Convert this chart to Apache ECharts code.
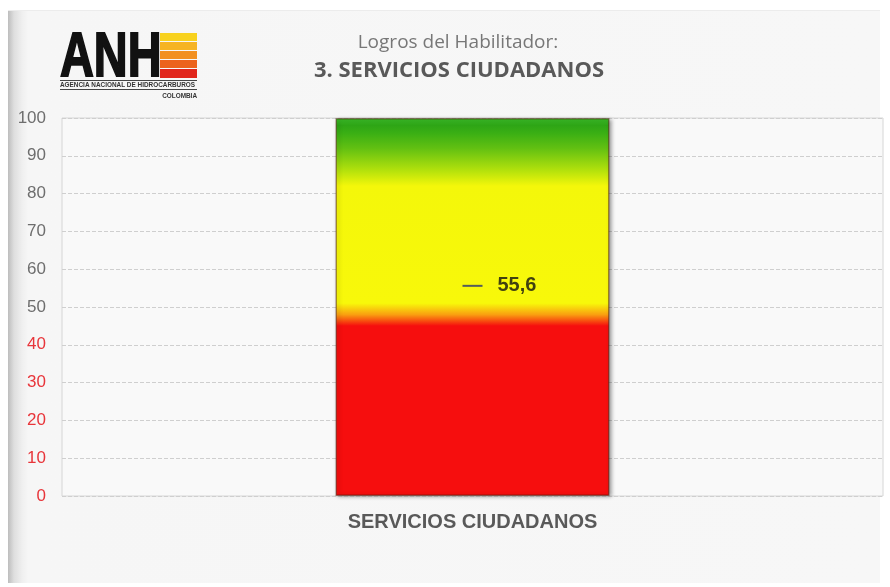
<!DOCTYPE html>
<html>
<head>
<meta charset="utf-8">
<script src="https://cdn.jsdelivr.net/npm/echarts@6/dist/echarts.min.js"></script>
<style>
    html, body { margin: 0; padding: 0; background: #ffffff; }
    #frame {
        position: absolute; left: 8px; top: 10px; width: 872px; height: 572px;
        background: linear-gradient(to right, #bdbdbd 0px, #dedede 6px, #efefef 14px, #f6f6f6 20px, #f7f7f7 100%);
        border-top: 1px solid #ececec;
    }
    #main { position: absolute; left: 0; top: 0; width: 890px; height: 587px; }
</style>
</head>
<body>
<div id="frame"></div>
<div id="main"></div>
<script>
// datos
var categorias = ['SERVICIOS CIUDADANOS'];
var escala = [100];          // la barra cubre toda la escala
var logro = [55.6];          // marcador del logro
var rojoHasta = 40;          // etiquetas del eje en rojo hasta este valor

var chart = echarts.init(document.getElementById('main'));

var option = {
    backgroundColor: 'transparent',
    animation: false,
    textStyle: {
        fontFamily: 'Liberation Sans, Arial, sans-serif'
    },
    graphic: [
        // logo ANH
        {
            type: 'text', x: 60, y: 90, scaleX: 0.71, scaleY: 0.96, originX: 0, originY: 0,
            style: {
                text: 'ANH', fontSize: 66, fontWeight: 900, fontFamily: 'Liberation Sans',
                fill: '#111111', stroke: '#111111', lineWidth: 2, verticalAlign: 'bottom'
            }
        },
        { type: 'rect', shape: { x: 160, y: 33, width: 37, height: 8 }, style: { fill: '#f8d21e' } },
        { type: 'rect', shape: { x: 160, y: 42, width: 37, height: 8 }, style: { fill: '#f6b423' } },
        { type: 'rect', shape: { x: 160, y: 51, width: 37, height: 8 }, style: { fill: '#f2901f' } },
        { type: 'rect', shape: { x: 160, y: 60, width: 37, height: 8 }, style: { fill: '#ec631d' } },
        { type: 'rect', shape: { x: 160, y: 69, width: 37, height: 9 }, style: { fill: '#e1261b' } },
        { type: 'rect', shape: { x: 60, y: 80, width: 137, height: 1 }, style: { fill: '#444444' } },
        {
            type: 'text', x: 60, y: 81, scaleX: 0.8, originX: 0,
            style: { text: 'AGENCIA NACIONAL DE HIDROCARBUROS', fontSize: 8, fontWeight: 'bold', fontFamily: 'Liberation Sans', fill: '#333333' }
        },
        { type: 'rect', shape: { x: 60, y: 89, width: 137, height: 1 }, style: { fill: '#444444' } },
        {
            type: 'text', x: 197, y: 92, scaleX: 0.8, originX: 0,
            style: { text: 'COLOMBIA', fontSize: 8, fontWeight: 'bold', fontFamily: 'Liberation Sans', fill: '#333333', align: 'right' }
        }
    ],
    title: [
        {
            text: 'Logros del Habilitador:',
            left: 453, top: 28, textAlign: 'center',
            textStyle: { fontFamily: 'Open Sans', fontWeight: 'normal', fontSize: 19, color: '#777777' }
        },
        {
            text: '3. SERVICIOS CIUDADANOS',
            left: 454, top: 55, textAlign: 'center',
            textStyle: { fontFamily: 'Open Sans', fontWeight: 'bold', fontSize: 22, color: '#595959' }
        }
    ],
    grid: {
        left: 62, right: 7, top: 118, bottom: 91,
        show: true,
        borderColor: '#d6d6d6',
        borderWidth: 1,
        backgroundColor: '#f9f9f9'
    },
    xAxis: {
        type: 'category',
        data: categorias,
        axisLine: { show: false },
        axisTick: { show: false },
        axisLabel: {
            margin: 16,
            fontSize: 20,
            fontWeight: 'bold',
            color: '#595959'
        }
    },
    yAxis: {
        type: 'value',
        min: 0,
        max: 100,
        interval: 10,
        axisLine: { show: false },
        axisTick: { show: false },
        axisLabel: {
            margin: 16,
            fontSize: 17,
            color: function (v) {
                return Number(v) <= rojoHasta ? '#e8353a' : '#6e6e6e';
            }
        },
        splitLine: {
            lineStyle: { color: '#cfcfcf', type: [4, 2] }
        }
    },
    series: [
        {
            name: 'escala',
            type: 'bar',
            data: escala,
            barWidth: 274,
            z: 2,
            itemStyle: {
                borderColor: 'rgba(70,20,0,0.45)',
                borderWidth: 1.5,
                shadowColor: 'rgba(0,0,0,0.4)',
                shadowBlur: 4,
                shadowOffsetX: 2,
                shadowOffsetY: 1,
                color: new echarts.graphic.LinearGradient(0, 0, 0, 1, [
                    { offset: 0, color: '#3cbf2a' },
                    { offset: 0.02, color: '#2ea516' },
                    { offset: 0.04, color: '#3aaf14' },
                    { offset: 0.08, color: '#62c012' },
                    { offset: 0.14, color: '#b5e20c' },
                    { offset: 0.18, color: '#f4f70a' },
                    { offset: 0.49, color: '#f8f80a' },
                    { offset: 0.52, color: '#f9a010' },
                    { offset: 0.55, color: '#f60e0e' },
                    { offset: 1, color: '#f60e0e' }
                ])
            }
        },
        {
            name: 'logro',
            type: 'scatter',
            data: logro,
            z: 5,
            symbol: 'rect',
            symbolSize: [20, 2],
            itemStyle: { color: '#2b3570' },
            label: {
                show: true,
                position: 'right',
                distance: 15,
                fontSize: 20,
                fontWeight: 'bold',
                color: '#111111',
                formatter: function (p) {
                    return String(p.value).replace('.', ',');
                }
            }
        }
    ]
};

chart.setOption(option);
</script>
</body>
</html>
